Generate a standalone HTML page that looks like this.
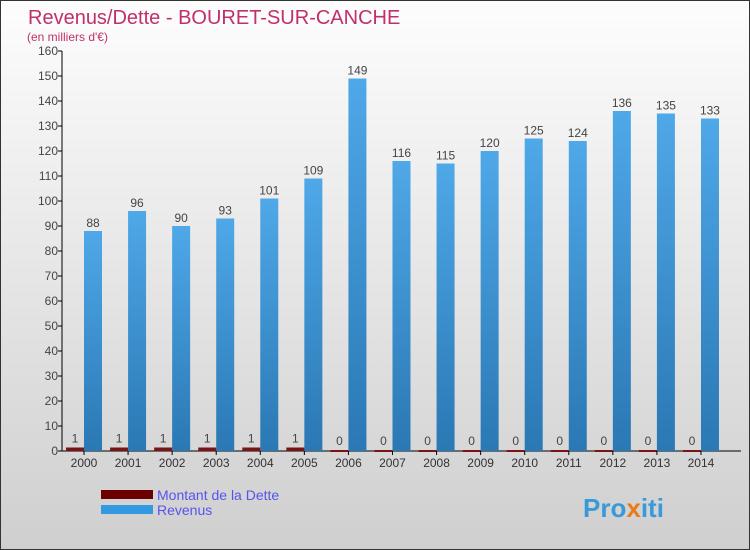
<!DOCTYPE html>
<html><head><meta charset="utf-8"><style>
body{margin:0}
#c{width:750px;height:550px;position:relative;overflow:hidden;background:linear-gradient(#fdfdfd,#cfcfcf);border:1px solid #333;box-sizing:border-box;font-family:"Liberation Sans",sans-serif}
</style></head><body>
<div id="c">
<svg width="750" height="550" id="s">
<defs><linearGradient id="rg" x1="0" y1="0" x2="0" y2="1"><stop offset="0" stop-color="#4fa8e8"/><stop offset="1" stop-color="#2a78b4"/></linearGradient></defs>
<text x="27" y="23" font-size="20" fill="#c0306a">Revenus/Dette - BOURET-SUR-CANCHE</text>
<text x="26" y="40" font-size="12" fill="#c0306a">(en milliers d'€)</text>
<g id="g"></g>
<rect x="100" y="489" width="52" height="9" fill="#6b0000"/>
<text x="156" y="499" font-size="14" fill="#5555ee">Montant de la Dette</text>
<rect x="100" y="504" width="52" height="9" fill="#3399e0"/>
<text x="156" y="514" font-size="14" fill="#5555ee">Revenus</text>
<text x="582" y="516" font-size="26" font-weight="bold" fill="#3a9ad8">Pro<tspan fill="#e87a1a">x</tspan>iti</text>
</svg></div>
<script>
const years=["2000","2001","2002","2003","2004","2005","2006","2007","2008","2009","2010","2011","2012","2013","2014"];
const revenus=[88,96,90,93,101,109,149,116,115,120,125,124,136,135,133];
const dette=[1,1,1,1,1,1,0,0,0,0,0,0,0,0,0];
const yTicks=[0,10,20,30,40,50,60,70,80,90,100,110,120,130,140,150,160];
const NS="http://www.w3.org/2000/svg",g=document.getElementById("g");
const y=v=>450-v*2.5, x=i=>82+i*44.07;
function mk(t,a,txt){const e=document.createElementNS(NS,t);for(const k in a)e.setAttribute(k,a[k]);if(txt!=null)e.textContent=txt;g.appendChild(e);return e;}
let e=mk("line",{x1:61,y1:50,x2:61,y2:450,stroke:"#000"});


e=mk("line",{x1:61,y1:450,x2:740,y2:450,stroke:"#000"});


yTicks.forEach(v=>{
 e=mk("line",{x1:57,y1:y(v),x2:61,y2:y(v),stroke:"#000"});
 
 
 e=mk("text",{x:57,y:y(v)+4,"font-size":12,fill:"#444","text-anchor":"end"},v);
 
 
});
years.forEach((yr,i)=>{
 const c=x(i);
 e=mk("rect",{x:c+1,y:y(revenus[i]),width:18,height:revenus[i]*2.5,fill:"url(#rg)"});
 
 
 e=mk("text",{x:c+10,y:y(revenus[i])-4,"font-size":12,fill:"#444","text-anchor":"middle"},revenus[i]);
 
 
 e=mk("rect",{x:c-17,y:y(dette[i])-1,width:18,height:Math.max(dette[i]*2.5,1)+1,fill:"#7a1515"});
 
 
 e=mk("text",{x:c-8,y:y(dette[i])-6,"font-size":12,fill:"#444","text-anchor":"middle"},dette[i]);
 
 
 e=mk("line",{x1:c+1,y1:450,x2:c+1,y2:454,stroke:"#000"});
 
 
 e=mk("text",{x:c+1,y:466,"font-size":12,fill:"#333","text-anchor":"middle"},yr);
 
 
});
</script>
</body></html>
